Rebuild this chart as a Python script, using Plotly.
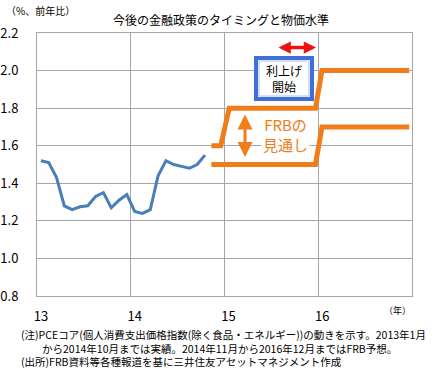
import plotly.graph_objects as go

# ---- data ----
months = ["2013-01","2013-02","2013-03","2013-04","2013-05","2013-06","2013-07","2013-08",
          "2013-09","2013-10","2013-11","2013-12","2014-01","2014-02","2014-03","2014-04",
          "2014-05","2014-06","2014-07","2014-08","2014-09","2014-10"]
pce_core = [1.52, 1.51, 1.43, 1.28, 1.26, 1.275, 1.28, 1.33, 1.35, 1.27, 1.31,
            1.34, 1.25, 1.24, 1.26, 1.44, 1.52, 1.50, 1.49, 1.48, 1.50, 1.55]
upper_x = [14.86, 14.96, 15.05, 15.97, 16.04, 16.97]
upper_y = [1.6, 1.6, 1.8, 1.8, 2.0, 2.0]
lower_x = [14.86, 15.97, 16.04, 16.97]
lower_y = [1.5, 1.5, 1.7, 1.7]
tick_years = [13, 14, 15, 16]
tick_labels = ["13", "14", "15", "16"]

def month_pos(s):
    y, m = s.split("-")
    return int(y) - 2000 + (int(m) - 0.5) / 12

x_months = [month_pos(s) for s in months]

W, H = 448, 376
L, R, T, B = 37, 36, 33, 80
PW, PH = W - L - R, H - T - B

def px(x):
    return (x - L) / PW

def py(y):
    return (H - B - y) / PH

FONT = "Noto Sans CJK JP"
ORANGE = "#F07D1A"
BLUE = "#4A7EBB"
GRID = "#A6A6A6"

fig = go.Figure()
fig.add_trace(go.Scatter(x=x_months, y=pce_core, mode="lines",
                         line=dict(color=BLUE, width=3), hoverinfo="skip"))
fig.add_trace(go.Scatter(x=upper_x, y=upper_y, mode="lines",
                         line=dict(color=ORANGE, width=5), hoverinfo="skip"))
fig.add_trace(go.Scatter(x=lower_x, y=lower_y, mode="lines",
                         line=dict(color=ORANGE, width=5), hoverinfo="skip"))

fig.update_layout(
    width=W, height=H, showlegend=False,
    margin=dict(l=L, r=R, t=T, b=B),
    paper_bgcolor="white", plot_bgcolor="white",
    font=dict(family=FONT, color="black"),
    xaxis=dict(range=[13, 17], tickvals=tick_years, ticktext=tick_labels,
               showgrid=True, gridcolor=GRID, gridwidth=1, automargin=False,
               showline=True, linecolor=GRID, linewidth=1, mirror=True,
               zeroline=False, ticks="", tickfont=dict(size=13, family=FONT),
               ticklabelshift=4, ticklabelstandoff=8),
    yaxis=dict(range=[0.8, 2.2], dtick=0.2, tick0=0.8, tickformat=".1f",
               showgrid=True, gridcolor=GRID, gridwidth=1, automargin=False,
               showline=True, linecolor=GRID, linewidth=1, mirror=True,
               zeroline=False, ticks="", tickfont=dict(size=13, family=FONT),
               ticklabelstandoff=15),
)

XR, YR = "x domain", "y domain"

# Box for 利上げ開始
fig.add_shape(type="rect", xref=XR, yref=YR,
              x0=px(256), x1=px(312), y0=py(99), y1=py(58),
              line=dict(color="#3F6FD8", width=4), fillcolor="white", layer="above")
fig.add_shape(type="rect", xref=XR, yref=YR,
              x0=px(259), x1=px(309), y0=py(96), y1=py(61),
              line=dict(color="#A9C0F0", width=1), layer="above")

ann = []
ann.append(dict(x=px(284), y=py(78.5), xref=XR, yref=YR, text="利上げ<br>開始",
                showarrow=False, font=dict(size=12, color="black", family=FONT),
                xanchor="center", yanchor="middle"))
# red double arrow
ann.append(dict(x=px(316), y=py(47.5), ax=px(277), ay=py(47.5),
                xref=XR, yref=YR, axref=XR, ayref=YR,
                text="", showarrow=True, arrowhead=2, arrowside="end+start",
                arrowsize=0.7, arrowwidth=3.5, arrowcolor="#EE1111"))
# orange vertical double arrow
ann.append(dict(x=px(245), y=py(157), ax=px(245), ay=py(113),
                xref=XR, yref=YR, axref=XR, ayref=YR,
                text="", showarrow=True, arrowhead=2, arrowside="end+start",
                arrowsize=1, arrowwidth=3, arrowcolor=ORANGE))
ann.append(dict(x=px(285), y=py(134), xref=XR, yref=YR, text="FRBの<br>見通し",
                showarrow=False, font=dict(size=15, color=ORANGE, family=FONT),
                bgcolor="white", xanchor="center", yanchor="middle"))
# title and units
ann.append(dict(x=px(221), y=py(20), xref="paper", yref="paper",
                text="今後の金融政策のタイミングと物価水準", showarrow=False,
                font=dict(size=12, family=FONT), xanchor="center", yanchor="middle"))
ann.append(dict(x=px(4), y=py(10), xref="paper", yref="paper",
                text="（%、前年比）", showarrow=False,
                font=dict(size=10, family=FONT), xanchor="left", yanchor="middle"))
ann.append(dict(x=px(382), y=py(310), xref="paper", yref="paper",
                text="（年）", showarrow=False,
                font=dict(size=9, family=FONT), xanchor="left", yanchor="middle"))
# footnotes (one block, left aligned)
notes = [
    "(注)PCEコア(個人消費支出価格指数(除く食品・エネルギー))の動きを示す。2013年1月",
    "　　から2014年10月までは実績。2014年11月から2016年12月まではFRB予想。",
    "(出所)FRB資料等各種報道を基に三井住友アセットマネジメント作成",
]
ann.append(dict(x=px(19), y=py(348), xref="paper", yref="paper",
                text="<br>".join(notes), align="left", showarrow=False,
                font=dict(size=10.5, family=FONT), xanchor="left", yanchor="middle"))
fig.update_layout(annotations=ann)

fig.write_html("out.html")
